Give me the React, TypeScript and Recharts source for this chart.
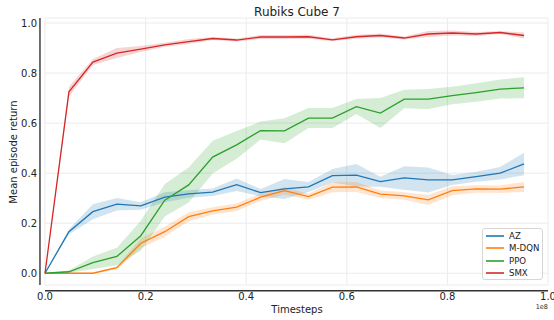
import { ComposedChart, Line, Area, XAxis, YAxis, CartesianGrid, ReferenceLine } from 'recharts';

// timesteps in units of 1e8
const steps = [0, 0.0476, 0.0952, 0.1429, 0.1905, 0.2381, 0.2857, 0.3333, 0.381, 0.4286, 0.4762,
  0.5238, 0.5714, 0.619, 0.6667, 0.7143, 0.7619, 0.8095, 0.8571, 0.9048, 0.9524];

const azMean = [0, 0.166, 0.246, 0.276, 0.269, 0.304, 0.317, 0.324, 0.354, 0.322, 0.337,
  0.345, 0.39, 0.392, 0.366, 0.381, 0.373, 0.373, 0.386, 0.4, 0.437];
const azSpread = [0, 0.01, 0.03, 0.025, 0.015, 0.02, 0.015, 0.015, 0.025, 0.015, 0.04,
  0.02, 0.027, 0.045, 0.02, 0.047, 0.05, 0.02, 0.02, 0.025, 0.045];

const mdqnMean = [0, 0, 0, 0.022, 0.12, 0.166, 0.226, 0.249, 0.264, 0.304, 0.33,
  0.306, 0.344, 0.345, 0.316, 0.309, 0.293, 0.33, 0.337, 0.336, 0.345];
const mdqnSpread = [0, 0.002, 0.002, 0.006, 0.02, 0.02, 0.018, 0.015, 0.015, 0.015, 0.015,
  0.012, 0.02, 0.02, 0.015, 0.015, 0.02, 0.018, 0.015, 0.015, 0.02];

const ppoMean = [0, 0.006, 0.042, 0.067, 0.15, 0.292, 0.353, 0.464, 0.513, 0.57, 0.569,
  0.62, 0.62, 0.666, 0.64, 0.696, 0.696, 0.71, 0.722, 0.736, 0.741];
const ppoSpread = [0, 0.005, 0.025, 0.035, 0.06, 0.065, 0.07, 0.065, 0.055, 0.036, 0.05,
  0.04, 0.04, 0.03, 0.06, 0.037, 0.04, 0.035, 0.037, 0.038, 0.042];

const smxMean = [0, 0.725, 0.844, 0.88, 0.896, 0.913, 0.926, 0.938, 0.932, 0.944, 0.944,
  0.945, 0.933, 0.945, 0.95, 0.94, 0.956, 0.96, 0.956, 0.962, 0.95];
const smxSpread = [0, 0.02, 0.012, 0.02, 0.012, 0.008, 0.01, 0.006, 0.006, 0.008, 0.008,
  0.008, 0.006, 0.008, 0.008, 0.006, 0.012, 0.01, 0.008, 0.006, 0.012];

const xTicks = [0, 0.2, 0.4, 0.6, 0.8, 1.0];
const yTicks = [0, 0.2, 0.4, 0.6, 0.8, 1.0];

const series = [
  { key: 'az', name: 'AZ', color: '#1f77b4', mean: azMean, spread: azSpread },
  { key: 'mdqn', name: 'M-DQN', color: '#ff7f0e', mean: mdqnMean, spread: mdqnSpread },
  { key: 'ppo', name: 'PPO', color: '#2ca02c', mean: ppoMean, spread: ppoSpread },
  { key: 'smx', name: 'SMX', color: '#d62728', mean: smxMean, spread: smxSpread },
];

const data = steps.map((step, i) => {
  const row: any = { step };
  series.forEach((s) => {
    row[s.key] = s.mean[i];
    row[s.key + 'Band'] = [s.mean[i] - s.spread[i], s.mean[i] + s.spread[i]];
  });
  return row;
});

const font = 'DejaVu Sans, sans-serif';
const ink = '#222';

function LegendBox() {
  return (
    <div
      style={{
        position: 'absolute', left: 482, top: 228, width: 61, height: 52,
        border: '1px solid #d6d6d6', borderRadius: 3, background: 'rgba(255,255,255,0.8)',
        fontFamily: font, fontSize: 8.6, color: ink, boxSizing: 'border-box', paddingTop: 1,
        whiteSpace: 'nowrap',
      }}
    >
      {series.map((s) => (
        <div key={s.key} style={{ display: 'flex', alignItems: 'center', height: 12.3 }}>
          <svg width={24} height={6} style={{ marginLeft: 2, flexShrink: 0 }}>
            <line x1={1} y1={3} x2={19} y2={3} stroke={s.color} strokeWidth={1.6} />
          </svg>
          <span>{s.name}</span>
        </div>
      ))}
    </div>
  );
}

export default function App() {
  return (
    <div style={{ position: 'absolute', left: 0, top: 0, width: 554, height: 320, background: '#fff' }}>
      <ComposedChart
        width={554}
        height={320}
        data={data}
        margin={{ top: 18, right: 6, bottom: 0, left: 0 }}
        style={{ fontFamily: font }}
      >
        <CartesianGrid stroke="#ebebeb" strokeWidth={1} />
        <XAxis
          type="number"
          dataKey="step"
          domain={[0, 1]}
          ticks={xTicks}
          interval={0}
          tickFormatter={(v: number) => v.toFixed(1)}
          axisLine={false}
          tickLine={false}
          tickSize={0}
          tickMargin={8}
          height={35}
          tick={{ fill: ink, fontSize: 10 }}
        />
        <YAxis
          type="number"
          domain={[-0.047, 1.02]}
          allowDataOverflow
          ticks={yTicks}
          interval={0}
          tickFormatter={(v: number) => v.toFixed(1)}
          axisLine={false}
          tickLine={false}
          tickSize={0}
          tickMargin={8}
          width={45}
          tick={{ fill: ink, fontSize: 10 }}
        />
        {series.map((s) => [
          <Area
            key={s.key + 'Band'}
            type="linear"
            dataKey={s.key + 'Band'}
            stroke="none"
            fill={s.color}
            fillOpacity={0.2}
            isAnimationActive={false}
            legendType="none"
            activeDot={false}
          />,
          <Line
            key={s.key}
            type="linear"
            dataKey={s.key}
            name={s.name}
            stroke={s.color}
            strokeWidth={1.3}
            dot={false}
            activeDot={false}
            isAnimationActive={false}
          />,
        ])}
        {/* offset spines */}
        <ReferenceLine
          segment={[{ x: -0.01, y: -0.047 }, { x: -0.01, y: 1.02 }]}
          ifOverflow="visible"
          stroke="#333"
          strokeWidth={1.4}
        />
        <ReferenceLine
          segment={[{ x: 0, y: -0.07 }, { x: 1, y: -0.07 }]}
          ifOverflow="visible"
          stroke="#333"
          strokeWidth={1.4}
        />
        <text x={297} y={16} textAnchor="middle" fontSize={12} fill={ink} fontFamily={font}>
          Rubiks Cube 7
        </text>
        <text x={297} y={313} textAnchor="middle" fontSize={10} fill={ink} fontFamily={font}>
          Timesteps
        </text>
        <text x={548} y={309} textAnchor="end" fontSize={6.5} fill={ink} fontFamily={font}>
          1e8
        </text>
        <text
          x={17}
          y={152}
          textAnchor="middle"
          fontSize={10}
          fill={ink}
          fontFamily={font}
          transform="rotate(-90 17 152)"
        >
          Mean episode return
        </text>
      </ComposedChart>
      <LegendBox />
    </div>
  );
}
